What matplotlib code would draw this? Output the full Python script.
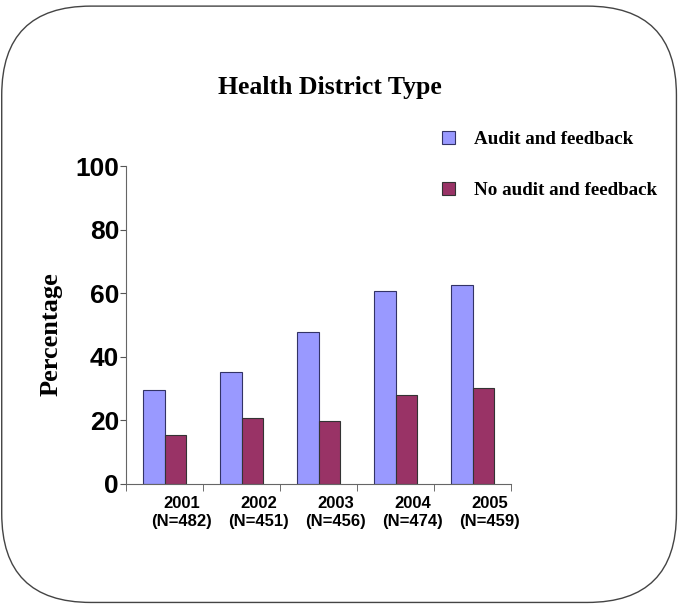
import numpy as np, matplotlib
matplotlib.use('Agg')
import matplotlib.pyplot as plt
from matplotlib.patches import FancyBboxPatch

# ---- Data ----
years = ['2001', '2002', '2003', '2004', '2005']
n_vals = [482, 451, 456, 474, 459]
audit = [29.6, 35.2, 47.8, 60.7, 62.6]
no_audit = [15.4, 20.8, 19.8, 28.0, 30.2]

fig = plt.figure(figsize=(6.85, 6.11), dpi=100, facecolor='white')

# rounded frame around the whole chart
frame = FancyBboxPatch((0.0025, 0.014), 0.985, 0.976,
                       boxstyle='round,pad=0,rounding_size=0.13',
                       transform=fig.transFigure, fill=False,
                       edgecolor='#444444', lw=1.0, mutation_aspect=685/611)
fig.patches.append(frame)

ax = fig.add_axes([0.184, 0.208, 0.562, 0.520])
x = np.arange(len(years))
w = 0.285
ax.bar(x - w/2, audit, w, color='#9999ff', edgecolor='#333366', lw=0.8,
       label='Audit and feedback')
ax.bar(x + w/2, no_audit, w, color='#993366', edgecolor='#333333', lw=0.8,
       label='No audit and feedback')

ax.set_xlim(-0.5, len(years) - 0.5)
ax.set_ylim(0, 100)
ax.set_yticks(np.arange(0, 101, 20))
ax.set_yticklabels([str(v) for v in range(0, 101, 20)],
                   fontsize=19, fontweight='bold', family='Liberation Sans')
# labels sit a bit right of the bar groups in the original
ax.set_xticks(x + 0.22)
ax.set_xticklabels([f'{y}\n(N={n})' for y, n in zip(years, n_vals)],
                   fontsize=12, fontweight='bold', family='Liberation Sans',
                   linespacing=1.25)
ax.tick_params(axis='x', length=0, pad=9)
ax.set_xticks(np.arange(-0.5, len(years)), minor=True)
ax.tick_params(axis='x', which='minor', length=5, color='#555555')
ax.tick_params(axis='y', length=4, color='#555555', pad=1)
for s in ['top', 'right']:
    ax.spines[s].set_visible(False)
for s in ['left', 'bottom']:
    ax.spines[s].set_color('#666666')

ax.set_ylabel('Percentage', fontsize=19, fontweight='bold',
              family='Liberation Serif')
ax.yaxis.set_label_coords(-0.165, 0.47)

fig.text(0.482, 0.857, 'Health District Type', ha='center', va='center',
         fontsize=18.5, fontweight='bold', family='Liberation Serif')

fig.legend(loc='upper left', bbox_to_anchor=(0.637, 0.795), frameon=False,
           prop={'family': 'Liberation Serif', 'weight': 'bold', 'size': 13.7},
           handlelength=0.7, handleheight=0.7, labelspacing=1.75, handletextpad=1.0,
           borderaxespad=0, borderpad=0.3)

plt.savefig('out.png', dpi=100, facecolor='white')
